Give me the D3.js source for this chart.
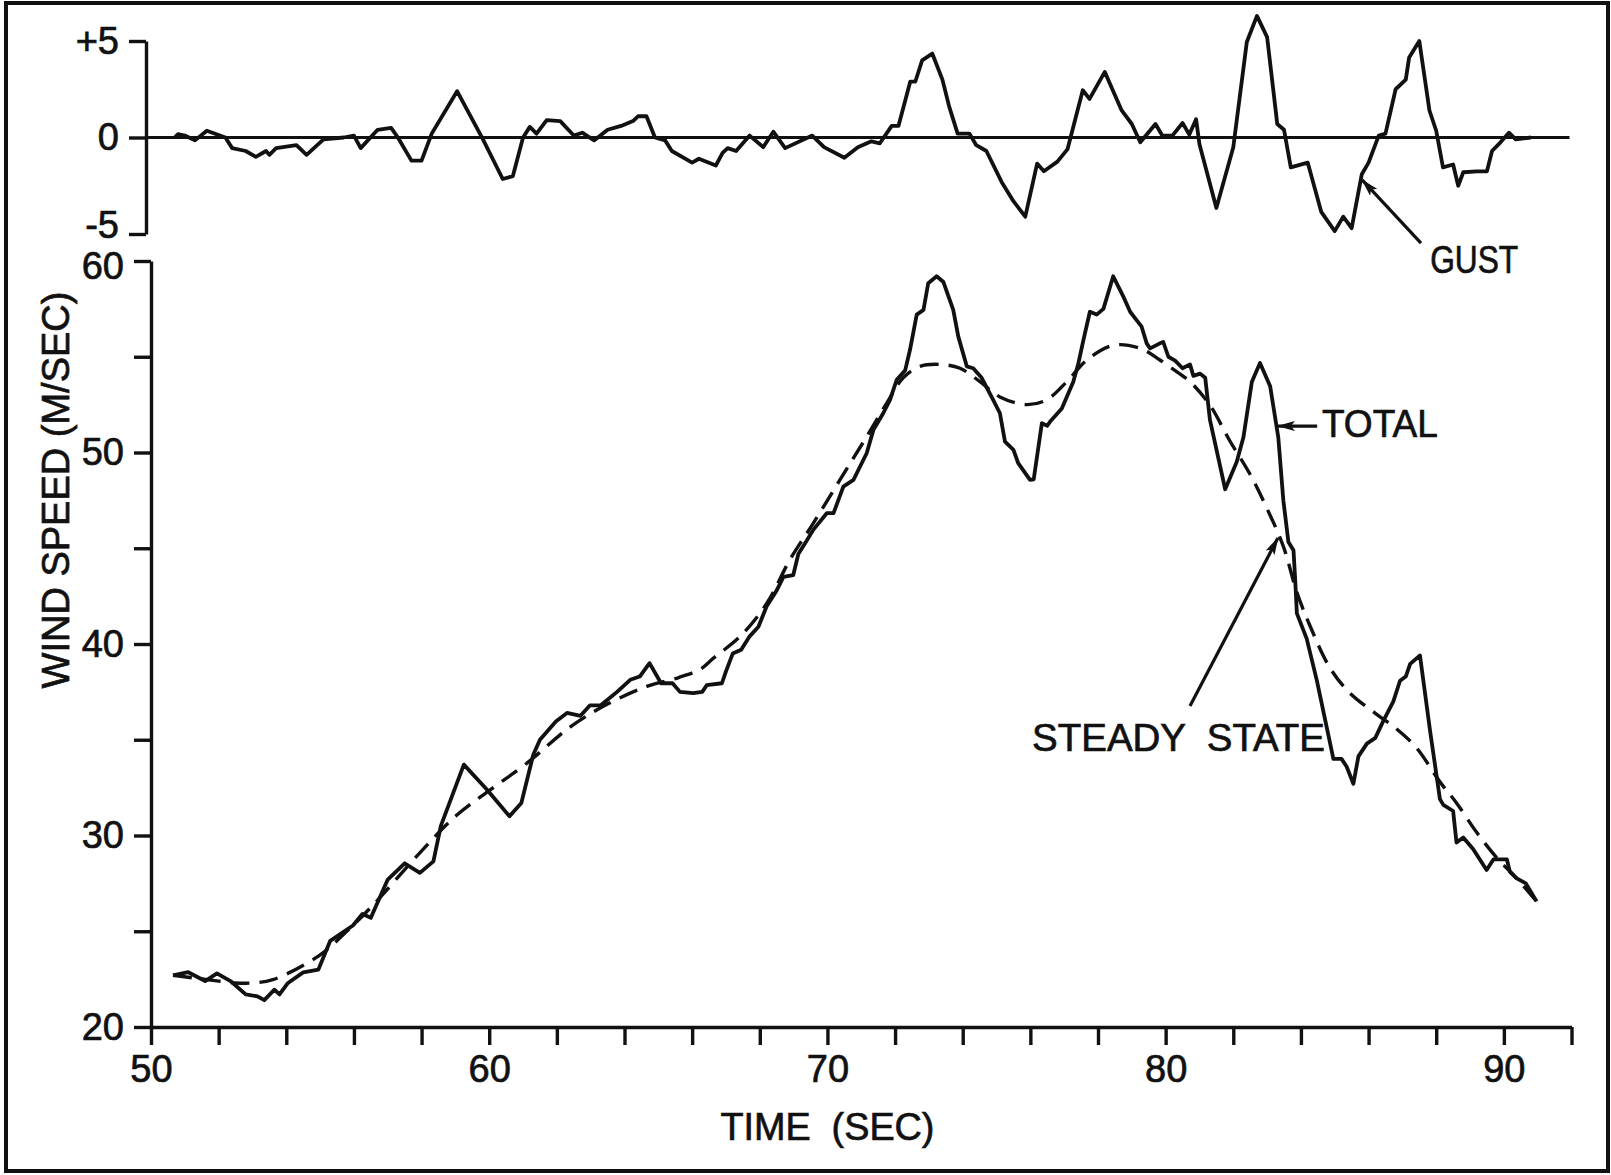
<!DOCTYPE html>
<html>
<head>
<meta charset="utf-8">
<script src="https://cdn.jsdelivr.net/npm/d3@7"></script>
<style>
  html, body { margin: 0; padding: 0; background: #fff; }
  svg { display: block; font-family: "Liberation Sans", Arial, sans-serif; }
</style>
</head>
<body>
<svg id="chart" width="1611" height="1175"></svg>
<script>
// ---- Data -------------------------------------------------------------
// Gust component (m/s) versus time (s)
const gustTime = [50.7, 50.8, 51.0, 51.3, 51.65, 52.2, 52.4, 52.8, 53.1, 53.4, 53.5, 53.7,
  54.3, 54.6, 55.1, 55.7, 56.0, 56.2, 56.7, 57.1, 57.3, 57.7, 58.0, 58.3, 59.05, 59.8,
  60.4, 60.7, 61.0, 61.2, 61.4, 61.7, 62.1, 62.5, 62.75, 63.1, 63.5, 63.9, 64.25, 64.4,
  64.65, 64.9, 65.2, 65.4, 66.0, 66.2, 66.7, 66.9, 67.05, 67.3, 67.7, 68.1, 68.4, 68.75,
  69.55, 69.9, 70.5, 70.9, 71.3, 71.55, 71.9, 72.1, 72.45, 72.6, 72.8, 73.1, 73.4, 73.6,
  73.85, 74.2, 74.4, 74.7, 75.15, 75.5, 75.85, 76.2, 76.4, 76.8, 77.1, 77.55, 77.75, 78.2,
  78.45, 78.7, 79.0, 79.25, 79.7, 79.9, 80.2, 80.5, 80.7, 80.9, 81.0, 81.5, 82.0, 82.4,
  82.7, 83.0, 83.3, 83.5, 83.7, 84.2, 84.6, 85.0, 85.25, 85.5, 85.8, 86.0, 86.3, 86.5,
  86.8, 87.1, 87.2, 87.5, 87.8, 88.0, 88.2, 88.5, 88.65, 88.8, 89.2, 89.5, 89.65, 89.9,
  90.15, 90.35, 90.8];
const gustValue = [0, 0.17, 0.1, -0.15, 0.35, 0, -0.55, -0.7, -1.0, -0.7, -0.9, -0.55,
  -0.4, -0.9, -0.1, 0, 0.1, -0.55, 0.4, 0.5, 0, -1.2, -1.2, 0.2, 2.4, -0.05,
  -2.15, -2.0, 0, 0.55, 0.2, 0.9, 0.85, 0.1, 0.25, -0.15, 0.4, 0.6, 0.85, 1.1,
  1.1, 0, -0.15, -0.7, -1.3, -1.1, -1.45, -0.8, -0.55, -0.7, 0.1, -0.5, 0.3, -0.55,
  0.1, -0.5, -1.05, -0.5, -0.2, -0.3, 0.6, 0.6, 2.9, 2.9, 4.0, 4.35, 3.0, 1.6,
  0.2, 0.2, -0.4, -0.7, -2.3, -3.3, -4.1, -1.35, -1.75, -1.25, -0.6, 2.45, 2.0, 3.4,
  2.4, 1.4, 0.7, -0.25, 0.7, 0.1, 0.1, 0.75, 0.15, 0.95, -0.35, -3.65, -0.5, 4.95,
  6.3, 5.2, 0.7, 0.4, -1.55, -1.3, -3.85, -4.85, -4.1, -4.7, -1.9, -1.3, 0.1, 0.2,
  2.5, 3.0, 4.15, 5.0, 1.4, 0.35, -1.55, -1.4, -2.5, -1.8, -1.75, -1.75, -0.7, -0.25,
  0.25, -0.1, 0];

// Total wind speed (m/s) versus time (s)
const totalTime = [50.65, 51.1, 51.6, 51.95, 52.35, 52.8, 53.15, 53.35, 53.65, 53.8, 54.05,
  54.5, 54.95, 55.3, 55.97, 56.25, 56.5, 57.0, 57.5, 57.95, 58.35, 58.57, 59.25, 59.93,
  60.6, 60.95, 61.3, 61.5, 61.97, 62.3, 62.7, 62.98, 63.3, 63.78, 64.17, 64.45, 64.74,
  65.08, 65.42, 65.64, 66.03, 66.3, 66.43, 66.88, 67.0, 67.2, 67.45, 67.7, 67.96, 68.2,
  68.5, 68.7, 68.99, 69.14, 69.39, 69.58, 69.98, 70.18, 70.47, 70.77, 71.16, 71.36, 71.65,
  71.85, 72.05, 72.3, 72.44, 72.64, 72.84, 72.98, 73.23, 73.43, 73.72, 73.87, 74.12, 74.31,
  74.56, 74.9, 75.1, 75.25, 75.5, 75.64, 75.99, 76.1, 76.34, 76.5, 76.58, 76.93, 77.27,
  77.42, 77.57, 77.76, 77.96, 78.16, 78.45, 78.75, 78.95, 79.1, 79.29, 79.44, 79.54, 79.83,
  79.93, 80.08, 80.28, 80.5, 80.72, 80.82, 81.02, 81.17, 81.31, 81.76, 82.1, 82.3, 82.55,
  82.79, 83.09, 83.33, 83.48, 83.63, 83.78, 83.83, 83.88, 84.17, 84.47, 84.76, 84.96, 85.2,
  85.35, 85.55, 85.7, 85.95, 86.2, 86.44, 86.73, 86.93, 87.1, 87.23, 87.52, 87.82, 88.11, 88.21,
  88.5, 88.6, 88.8, 89.09, 89.49, 89.69, 90.09, 90.18, 90.38, 90.65, 90.97];
const totalValue = [22.7, 22.86, 22.4, 22.8, 22.4, 21.7, 21.6, 21.4, 21.95, 21.7, 22.3,
  22.85, 23.0, 24.5, 25.3, 25.9, 25.7, 27.7, 28.55, 28.05, 28.65, 30.5, 33.7, 32.4,
  31.0, 31.7, 34.2, 35.0, 35.95, 36.4, 36.25, 36.8, 36.8, 37.5, 38.13, 38.3, 39.0,
  37.95, 37.95, 37.5, 37.43, 37.5, 37.85, 37.95, 38.57, 39.5, 39.7, 40.4, 40.9, 41.96,
  42.8, 43.5, 43.6, 44.7, 45.4, 45.96, 46.83, 46.83, 48.22, 48.57, 49.96, 51.18, 52.05,
  52.75, 53.8, 54.3, 55.35, 57.2, 57.45, 58.84, 59.2, 58.9, 57.45, 56.05, 54.5, 54.4,
  53.9, 52.75, 52.05, 50.57, 50.14, 49.44, 48.57, 48.6, 51.53, 51.4, 51.6, 52.3, 53.7,
  54.66, 55.88, 57.35, 57.2, 57.5, 59.2, 58.14, 57.35, 57.0, 56.57, 55.7, 55.44, 55.7,
  55.77, 55.0, 54.8, 54.4, 54.6, 54.0, 54.12, 53.9, 51.7, 48.08, 49.5, 50.8, 53.7,
  54.67, 53.46, 50.8, 47.5, 45.33, 44.9, 43.36, 41.6, 40.28, 38.1, 35.67, 34.0, 34.0,
  33.6, 32.7, 34.13, 34.8, 35.1, 36.0, 36.99, 38.08, 38.3, 38.96, 39.4, 35.45, 31.9, 31.6,
  31.28, 29.63, 29.9, 29.3, 28.2, 28.75, 28.75, 28.1, 27.76, 27.5, 26.56];

// Steady-state wind speed (m/s) versus time (s)
const steadyTime = [50.65, 51.67, 52.5, 53.0, 53.6, 54.95, 55.85, 56.53, 57.9, 59.0, 60.04,
  61.06, 62.42, 63.54, 64.68, 65.6, 66.26, 66.63, 67.42, 68.2, 68.89, 69.58, 70.37, 71.16,
  71.75, 72.24, 72.74, 73.33, 73.92, 74.51, 75.1, 75.89, 76.48, 77.08, 77.67, 78.45,
  79.24, 79.83, 80.42, 80.72, 81.31, 81.9, 82.5, 82.99, 83.48, 83.88, 84.27, 84.86,
  85.45, 86.24, 86.83, 87.42, 88.11, 88.6, 89.19, 89.78, 90.38, 90.97];
const steadyValue = [22.7, 22.47, 22.3, 22.3, 22.47, 23.7, 25.1, 26.3, 29.0, 31.0, 32.4,
  33.7, 35.7, 36.9, 37.8, 38.25, 38.7, 39.26, 40.4, 42.1, 44.4, 46.3, 48.57, 50.83,
  52.57, 53.9, 54.5, 54.6, 54.4, 53.7, 52.9, 52.5, 52.75, 53.7, 54.83, 55.6,
  55.44, 54.83, 54.1, 53.7, 52.47, 50.6, 48.85, 47.1, 45.1, 42.7, 40.94, 38.75,
  37.43, 36.33, 35.56, 34.57, 32.8, 31.7, 30.18, 28.86, 27.76, 26.56];

// Axis ticks and labels
const timeTicks = [50, 52, 54, 56, 58, 60, 62, 64, 66, 68, 70, 72, 74, 76, 78, 80, 82, 84, 86, 88, 90, 92];
const timeLabels = [50, 60, 70, 80, 90];
const speedTicks = [20, 25, 30, 35, 40, 45, 50, 55, 60];
const speedLabels = [20, 30, 40, 50, 60];
const gustTicks = [-5, 0, 5];
const gustTickLabels = ["-5", "0", "+5"];

// ---- Layout ----------------------------------------------------------
const svg = d3.select("#chart");
const ink = "#111";
const textStroke = 0.7;

const x = d3.scaleLinear().domain([50, 92]).range([151, 1571.5]);
const yGust = d3.scaleLinear().domain([-5, 5]).range([234, 41]);
const ySpeed = d3.scaleLinear().domain([20, 60]).range([1027, 261]);
const gustAxisX = 146;

// frame
svg.append("rect")
  .attr("x", 6).attr("y", 3).attr("width", 1602).attr("height", 1168)
  .attr("fill", "#fff").attr("stroke", ink).attr("stroke-width", 4);

function styleAxis(g) {
  g.selectAll("path.domain").attr("stroke", ink).attr("stroke-width", 3.4);
  g.selectAll(".tick line").attr("stroke", ink).attr("stroke-width", 3.4);
  g.selectAll(".tick text").attr("fill", ink).attr("font-size", 38)
    .attr("stroke", ink).attr("stroke-width", textStroke)
    .attr("font-family", "'Liberation Sans', Arial, sans-serif");
}

// ---- Gust panel --------------------------------------------------------
const gAxisGust = svg.append("g")
  .attr("transform", `translate(${gustAxisX},0)`)
  .call(d3.axisLeft(yGust).tickValues(gustTicks)
    .tickFormat((d, i) => gustTickLabels[i])
    .tickSize(17).tickSizeOuter(0).tickPadding(10));
styleAxis(gAxisGust);
// nudge the lowest gust label up a little so it clears the "60" below it
gAxisGust.selectAll(".tick text").filter(d => d === -5).attr("dy", "0.1em");

// zero reference line
svg.append("line")
  .attr("x1", gustAxisX).attr("x2", x(92) - 2)
  .attr("y1", yGust(0)).attr("y2", yGust(0))
  .attr("stroke", ink).attr("stroke-width", 3.2);

const gustPts = gustTime.map((t, i) => ({ t, v: gustValue[i] }));
svg.append("path")
  .datum(gustPts)
  .attr("fill", "none").attr("stroke", ink).attr("stroke-width", 3.8)
  .attr("stroke-linejoin", "round")
  .attr("d", d3.line().x(d => x(d.t)).y(d => yGust(d.v)));

// ---- Wind speed panel ------------------------------------------------
const gAxisSpeed = svg.append("g")
  .attr("transform", `translate(${x(50)},0)`)
  .call(d3.axisLeft(ySpeed).tickValues(speedTicks)
    .tickFormat(d => speedLabels.includes(d) ? d : "")
    .tickSize(17).tickSizeOuter(0).tickPadding(10));
styleAxis(gAxisSpeed);
gAxisSpeed.selectAll(".tick text").filter(d => d === 60).attr("dy", "0.45em");

const gAxisTime = svg.append("g")
  .attr("transform", `translate(0,${ySpeed(20)})`)
  .call(d3.axisBottom(x).tickValues(timeTicks)
    .tickFormat(d => timeLabels.includes(d) ? d : "")
    .tickSize(18).tickSizeOuter(0).tickPadding(10));
styleAxis(gAxisTime);

const steadyPts = steadyTime.map((t, i) => ({ t, v: steadyValue[i] }));
svg.append("path")
  .datum(steadyPts)
  .attr("fill", "none").attr("stroke", ink).attr("stroke-width", 3.4)
  .attr("stroke-dasharray", "19,10")
  .attr("d", d3.line().curve(d3.curveCatmullRom.alpha(0.5))
    .x(d => x(d.t)).y(d => ySpeed(d.v)));

const totalPts = totalTime.map((t, i) => ({ t, v: totalValue[i] }));
svg.append("path")
  .datum(totalPts)
  .attr("fill", "none").attr("stroke", ink).attr("stroke-width", 3.8)
  .attr("stroke-linejoin", "round")
  .attr("d", d3.line().x(d => x(d.t)).y(d => ySpeed(d.v)));

// ---- Axis titles --------------------------------------------------------
svg.append("text")
  .attr("x", x(70)).attr("y", 1140)
  .attr("text-anchor", "middle")
  .attr("font-size", 38).attr("fill", ink)
  .attr("stroke", ink).attr("stroke-width", textStroke)
  .attr("textLength", 214).attr("lengthAdjust", "spacingAndGlyphs")
  .style("white-space", "pre")
  .text("TIME  (SEC)");

svg.append("text")
  .attr("transform", `translate(69,${490}) rotate(-90)`)
  .attr("text-anchor", "middle")
  .attr("font-size", 38).attr("fill", ink)
  .attr("stroke", ink).attr("stroke-width", textStroke)
  .style("white-space", "pre")
  .text("WIND SPEED (M/SEC)");

// ---- Annotations ------------------------------------------------------
const defs = svg.append("defs");
defs.append("marker")
  .attr("id", "head")
  .attr("markerUnits", "userSpaceOnUse")
  .attr("viewBox", "0 0 18 10")
  .attr("refX", 17).attr("refY", 5)
  .attr("markerWidth", 18).attr("markerHeight", 10)
  .attr("orient", "auto")
  .append("path")
  .attr("d", "M0,0 L18,5 L0,10 L4,5 Z")
  .attr("fill", ink);

function arrow(x1, y1, x2, y2) {
  svg.append("line")
    .attr("x1", x1).attr("y1", y1).attr("x2", x2).attr("y2", y2)
    .attr("stroke", ink).attr("stroke-width", 3.2)
    .attr("marker-end", "url(#head)");
}
function label(txt, px, py, len) {
  svg.append("text")
    .attr("x", px).attr("y", py)
    .attr("font-size", 38).attr("fill", ink)
    .attr("stroke", ink).attr("stroke-width", textStroke)
    .attr("textLength", len).attr("lengthAdjust", "spacingAndGlyphs")
    .style("white-space", "pre")
    .text(txt);
}

// gust
arrow(x(87.55), yGust(-5.47), x(85.81), yGust(-2.2));
label("GUST", x(87.82), yGust(-7.0), 88);

// total
arrow(x(84.48), ySpeed(51.38), x(83.32), ySpeed(51.38));
label("TOTAL", x(84.62), ySpeed(50.81), 116);

// steady state
arrow(x(80.72), ySpeed(36.76), x(83.32), ySpeed(45.54));
label("STEADY  STATE", x(76.05), ySpeed(34.41), 293);
</script>
</body>
</html>
